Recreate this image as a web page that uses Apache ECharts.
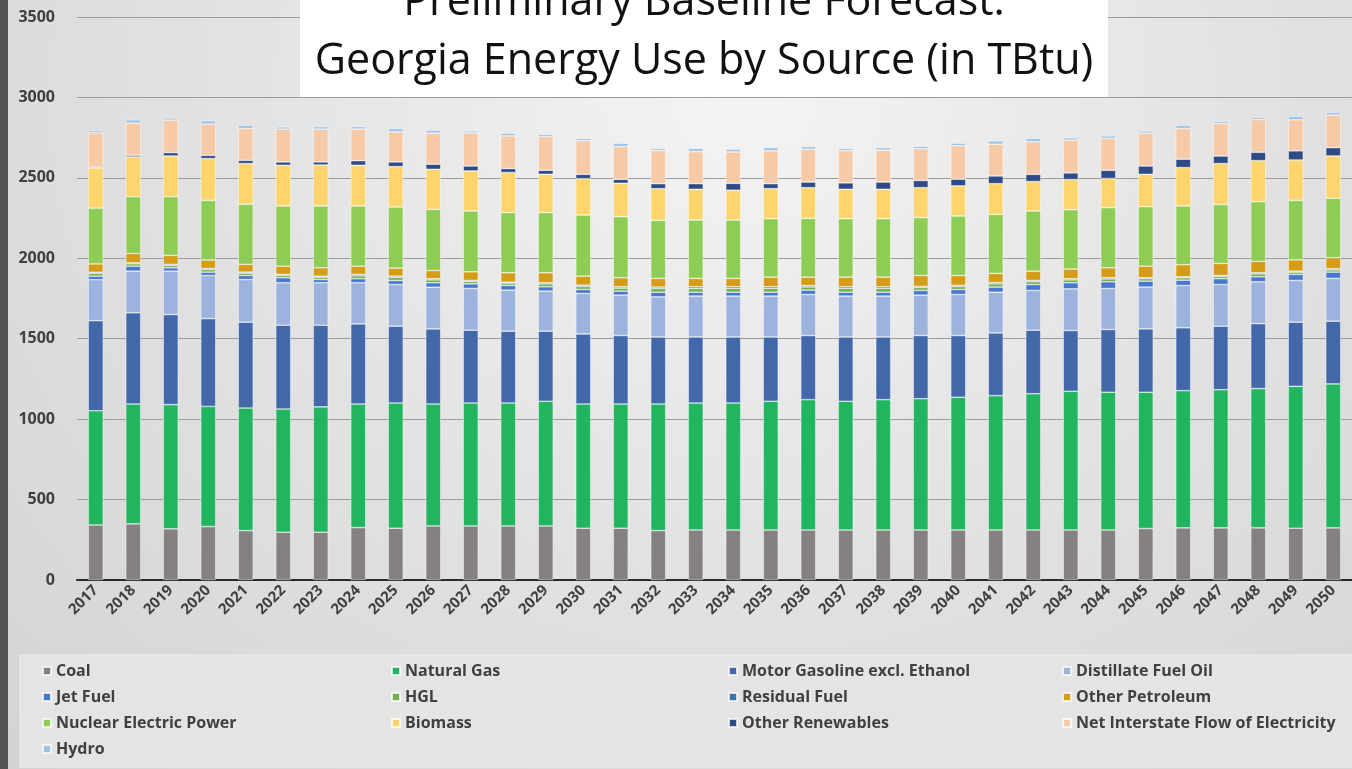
<!DOCTYPE html>
<html>
<head>
<meta charset="utf-8">
<title>Georgia Energy Use by Source</title>
<script src="https://cdn.jsdelivr.net/npm/echarts@6/dist/echarts.min.js"></script>
<style>
  html, body { margin: 0; padding: 0; }
  #wrap {
    position: relative;
    width: 1352px;
    height: 769px;
    background: radial-gradient(ellipse at 55% 12%, #f4f4f4 0%, #e2e2e2 50%, #d3d3d3 100%);
  }
  #strip { position: absolute; left: 0; top: 0; width: 8px; height: 769px; background: #525252; }
  #main { position: absolute; left: 0; top: 0; width: 1352px; height: 769px; }
</style>
</head>
<body>
<div id="wrap">
  <div id="main"></div>
  <div id="strip"></div>
</div>
<script>
// 年份
const years = ['2017', '2018', '2019', '2020', '2021', '2022', '2023', '2024', '2025', '2026', '2027', '2028',
  '2029', '2030', '2031', '2032', '2033', '2034', '2035', '2036', '2037', '2038', '2039', '2040',
  '2041', '2042', '2043', '2044', '2045', '2046', '2047', '2048', '2049', '2050'];

const yTicks = [0, 500, 1000, 1500, 2000, 2500, 3000, 3500];

// 各能源 (TBtu)
const coal = [342, 349, 318, 332, 307, 297, 297, 326, 322, 336, 336, 336, 336, 322, 322, 307, 311,
  311, 311, 311, 311, 311, 311, 311, 311, 311, 311, 311, 320, 324, 324, 324, 322, 324];
const naturalGas = [710, 745, 772, 747, 762, 766, 779, 768, 778, 758, 764, 764, 775, 772, 772, 787, 789,
  789, 800, 810, 800, 810, 816, 825, 835, 847, 862, 856, 847, 853, 859, 866, 882, 895];
const motorGasoline = [560, 567, 560, 546, 534, 521, 508, 498, 478, 467, 453, 447, 436, 436, 426, 417, 411,
  411, 400, 399, 400, 390, 393, 384, 390, 395, 378, 390, 394, 391, 395, 404, 399, 390];
const distillate = [255, 259, 270, 268, 265, 264, 264, 256, 259, 259, 259, 255, 249, 251, 251, 249, 254,
  254, 254, 255, 254, 254, 251, 255, 253, 247, 259, 255, 260, 263, 259, 260, 259, 266];
const jetFuel = [22, 31, 21, 21, 25, 31, 20, 25, 25, 28, 29, 29, 27, 25, 25, 29, 24,
  24, 24, 27, 24, 24, 29, 31, 32, 37, 38, 42, 37, 33, 36, 31, 38, 39];
const hgl = [18, 15, 15, 16, 15, 15, 15, 18, 19, 18, 15, 15, 18, 19, 19, 23, 24,
  24, 24, 20, 24, 24, 18, 18, 20, 18, 18, 18, 15, 15, 14, 18, 14, 14];
const residualFuel = [6, 6, 6, 7, 6, 6, 6, 9, 8, 7, 6, 6, 7, 8, 8, 9, 10,
  10, 10, 8, 10, 10, 7, 7, 8, 7, 7, 7, 6, 6, 6, 7, 6, 7];
const otherPetroleum = [52, 58, 56, 52, 48, 51, 52, 51, 50, 51, 54, 58, 62, 56, 56, 54, 52,
  52, 60, 53, 60, 60, 68, 62, 57, 58, 60, 62, 72, 75, 75, 71, 70, 69];
const nuclear = [347, 353, 365, 371, 374, 374, 384, 374, 380, 380, 378, 374, 374, 380, 380, 361, 363,
  363, 363, 365, 363, 363, 360, 370, 367, 374, 369, 374, 370, 365, 366, 371, 370, 369];
const biomass = [249, 247, 253, 260, 253, 253, 255, 253, 251, 249, 249, 249, 238, 226, 207, 197, 191,
  185, 187, 191, 183, 183, 186, 187, 191, 183, 187, 181, 201, 239, 255, 255, 251, 263];
const otherRenewables = [6, 10, 21, 20, 20, 21, 19, 29, 29, 32, 31, 25, 25, 27, 25, 31, 35,
  43, 31, 35, 40, 45, 45, 42, 48, 45, 42, 51, 52, 52, 47, 52, 57, 52];
const netInterstate = [214, 200, 202, 194, 198, 204, 204, 196, 187, 193, 206, 203, 210, 209, 204, 206, 199,
  195, 204, 204, 200, 198, 197, 208, 197, 202, 203, 198, 204, 191, 202, 204, 193, 202];
const hydro = [14, 21, 14, 21, 20, 14, 16, 16, 21, 18, 12, 17, 14, 14, 20, 13, 20,
  17, 20, 17, 14, 16, 15, 16, 21, 21, 15, 16, 13, 20, 14, 14, 21, 17];

const seriesNames = ['Coal', 'Natural Gas', 'Motor Gasoline excl. Ethanol', 'Distillate Fuel Oil',
  'Jet Fuel', 'HGL', 'Residual Fuel', 'Other Petroleum', 'Nuclear Electric Power', 'Biomass',
  'Other Renewables', 'Net Interstate Flow of Electricity', 'Hydro'];
const seriesData = [coal, naturalGas, motorGasoline, distillate, jetFuel, hgl, residualFuel,
  otherPetroleum, nuclear, biomass, otherRenewables, netInterstate, hydro];
const seriesColors = ['#858181', '#20b55e', '#4368aa', '#9bb3dd', '#4a78cc', '#74b04c', '#3a74ae',
  '#d49c17', '#8dcd55', '#fdd56c', '#2f4b85', '#f7caa7', '#9dc3e6'];

// 图例分四列
const legendColumns = [
  ['Coal', 'Jet Fuel', 'Nuclear Electric Power', 'Hydro'],
  ['Natural Gas', 'HGL', 'Biomass'],
  ['Motor Gasoline excl. Ethanol', 'Residual Fuel', 'Other Renewables'],
  ['Distillate Fuel Oil', 'Other Petroleum', 'Net Interstate Flow of Electricity']
];
const legendLefts = [42, 391, 728, 1062];

const FONT = "'Open Sans', sans-serif";

const chart = echarts.init(document.getElementById('main'));

const option = {
  animation: false,
  backgroundColor: 'transparent',
  textStyle: { fontFamily: FONT },
  graphic: [
    {
      type: 'rect',
      z: 5,
      shape: { x: 300, y: -5, width: 808, height: 102 },
      style: { fill: '#ffffff' }
    },
    {
      type: 'text',
      z: 6,
      style: {
        text: 'Preliminary Baseline Forecast:',
        x: 704, y: 3,
        textAlign: 'center', textVerticalAlign: 'middle',
        font: "43px " + FONT, fill: '#111'
      }
    },
    {
      type: 'text',
      z: 6,
      style: {
        text: 'Georgia Energy Use by Source (in TBtu)',
        x: 704, y: 62,
        textAlign: 'center', textVerticalAlign: 'middle',
        font: "43px " + FONT, fill: '#111'
      }
    },
    {
      type: 'rect',
      z: 0,
      shape: { x: 20, y: 655, width: 1340, height: 112 },
      style: { fill: '#e4e4e4', stroke: '#ededed', lineWidth: 1 }
    }
  ],
  legend: legendColumns.map((col, i) => ({
    orient: 'vertical',
    left: legendLefts[i],
    top: 663,
    padding: 0,
    itemGap: 10,
    itemWidth: 8,
    itemHeight: 8,
    icon: 'rect',
    data: col,
    textStyle: { color: '#404040', fontSize: 16, fontWeight: 'bold', lineHeight: 16, fontFamily: FONT }
  })),
  grid: {
    left: 77,
    top: 17,
    width: 1285,
    height: 563
  },
  xAxis: {
    type: 'category',
    data: years,
    axisLine: { lineStyle: { color: '#2a2a2a', width: 2 } },
    axisTick: { show: false },
    axisLabel: {
      rotate: 45,
      margin: 8,
      color: '#404040',
      fontSize: 15,
      fontWeight: 'bold',
      fontFamily: FONT
    }
  },
  yAxis: {
    type: 'value',
    min: yTicks[0],
    max: yTicks[yTicks.length - 1],
    interval: 500,
    axisLine: { show: false },
    axisTick: { show: false },
    axisLabel: {
      margin: 22,
      color: '#404040',
      fontSize: 16,
      fontWeight: 'bold',
      fontFamily: FONT,
      formatter: value => String(value)
    },
    splitLine: { lineStyle: { color: '#9c9c9c', width: 1 } }
  },
  series: seriesNames.map((name, i) => ({
    name: name,
    type: 'bar',
    stack: 'total',
    barWidth: 15,
    data: seriesData[i],
    itemStyle: {
      color: seriesColors[i],
      borderColor: 'rgba(255,255,255,0.75)',
      borderWidth: 0.6
    }
  }))
};

chart.setOption(option);
</script>
</body>
</html>
